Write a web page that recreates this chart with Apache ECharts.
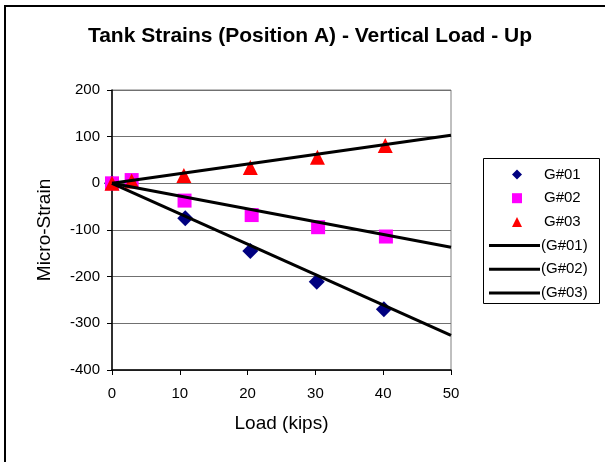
<!DOCTYPE html>
<html>
<head>
<meta charset="utf-8">
<script src="https://cdn.jsdelivr.net/npm/echarts@6/dist/echarts.min.js"></script>
<style>html,body{margin:0;padding:0;background:#fff;}#c{width:605px;height:462px;}</style>
</head>
<body>
<div id="c"></div>
<script>
// Data
var loadsG01 = [0, 10.8, 20.4, 30.2, 40.1];
var strainG01 = [0, -75, -145, -211, -270];
var loadsG02 = [0, 2.9, 10.7, 20.6, 30.4, 40.4];
var strainG02 = [0, 7, -37, -68, -94, -114];
var loadsG03 = [0, 2.9, 10.6, 20.4, 30.3, 40.3];
var strainG03 = [0, 5, 17, 34, 56, 81];
var trendLoads = [0, 50];
var trendG01 = [0, -326];
var trendG02 = [0, -137];
var trendG03 = [0, 103];
var pointNames = ['G#01', 'G#02', 'G#03'];
var trendNames = ['(G#01)', '(G#02)', '(G#03)'];
var xTicks = [0, 10, 20, 30, 40, 50];
var yTicks = [-400, -300, -200, -100, 0, 100, 200];

function pairs(xs, ys) { return xs.map(function (x, i) { return [x, ys[i]]; }); }

var FONT = "'Liberation Sans', Arial, sans-serif";
var chart = echarts.init(document.getElementById('c'), null, { renderer: 'canvas' });
chart.setOption({
  animation: false,
  backgroundColor: '#fff',
  textStyle: { fontFamily: FONT, color: '#000' },
  graphic: [{
    type: 'rect', silent: true,
    shape: { x: 5, y: 6, width: 700, height: 600 },
    style: { fill: 'none', stroke: '#000', lineWidth: 2 }
  }, {
    type: 'rect', silent: true,
    shape: { x: 483.5, y: 158.5, width: 116, height: 145 },
    style: { fill: 'none', stroke: '#000', lineWidth: 1 }
  }],
  title: {
    text: 'Tank Strains (Position A) - Vertical Load - Up',
    left: 305, top: 21, textAlign: 'center',
    textStyle: { fontFamily: FONT, fontSize: 21, fontWeight: 'bold', color: '#000' }
  },
  grid: { left: 112, right: 154, top: 90, bottom: 92, show: true, borderColor: '#808080', borderWidth: 1 },
  xAxis: {
    type: 'value', min: xTicks[0], max: xTicks[xTicks.length - 1], interval: 10,
    name: 'Load (kips)', nameLocation: 'middle', nameGap: 44,
    nameTextStyle: { fontFamily: FONT, fontSize: 19, color: '#000' },
    axisLine: { show: true, onZero: false, lineStyle: { color: '#000', width: 1.5 } },
    axisTick: { show: true, length: 5, lineStyle: { color: '#000' } },
    axisLabel: { margin: 16, fontFamily: FONT, fontSize: 15, color: '#000' },
    splitLine: { show: false }
  },
  yAxis: {
    type: 'value', min: yTicks[0], max: yTicks[yTicks.length - 1], interval: 100,
    name: 'Micro-Strain', nameLocation: 'middle', nameGap: 58,
    nameTextStyle: { fontFamily: FONT, fontSize: 19, color: '#000' },
    axisLine: { show: true, onZero: false, lineStyle: { color: '#000', width: 1.5 } },
    axisTick: { show: true, length: 5, lineStyle: { color: '#000' } },
    axisLabel: { margin: 12, fontFamily: FONT, fontSize: 15, color: '#000' },
    splitLine: { show: true, lineStyle: { color: '#707070', width: 1 } }
  },
  legend: [{
    orient: 'vertical', left: 512, top: 167, padding: 0,
    itemWidth: 10, itemHeight: 10, itemGap: 8.7,
    itemStyle: { opacity: 1 },
    textStyle: { fontFamily: FONT, fontSize: 15, color: '#000', lineHeight: 15, padding: [0, 0, 0, 17] },
    data: [
      { name: pointNames[0], icon: 'diamond' },
      { name: pointNames[1], icon: 'rect' },
      { name: pointNames[2], icon: 'triangle' }
    ]
  }, {
    orient: 'vertical', left: 489, top: 238, padding: 0,
    itemWidth: 51, itemHeight: 3, itemGap: 8.7,
    textStyle: { fontFamily: FONT, fontSize: 15, color: '#000', lineHeight: 15, padding: [0, 0, 0, -4] },
    data: [
      { name: trendNames[0], icon: 'rect' },
      { name: trendNames[1], icon: 'rect' },
      { name: trendNames[2], icon: 'rect' }
    ]
  }],
  series: [
    { name: pointNames[0], type: 'scatter', symbol: 'diamond', symbolSize: 16,
      itemStyle: { color: '#000080', opacity: 1 }, data: pairs(loadsG01, strainG01) },
    { name: pointNames[1], type: 'scatter', symbol: 'rect', symbolSize: 14,
      itemStyle: { color: '#FF00FF', opacity: 1 }, data: pairs(loadsG02, strainG02) },
    { name: pointNames[2], type: 'scatter', symbol: 'triangle', symbolSize: 15,
      itemStyle: { color: '#FF0000', opacity: 1 }, data: pairs(loadsG03, strainG03) },
    { name: trendNames[0], type: 'line', symbol: 'none', lineStyle: { color: '#000', width: 3 },
      itemStyle: { color: '#000' }, data: pairs(trendLoads, trendG01) },
    { name: trendNames[1], type: 'line', symbol: 'none', lineStyle: { color: '#000', width: 3 },
      itemStyle: { color: '#000' }, data: pairs(trendLoads, trendG02) },
    { name: trendNames[2], type: 'line', symbol: 'none', lineStyle: { color: '#000', width: 3 },
      itemStyle: { color: '#000' }, data: pairs(trendLoads, trendG03) }
  ]
});
</script>
</body>
</html>
